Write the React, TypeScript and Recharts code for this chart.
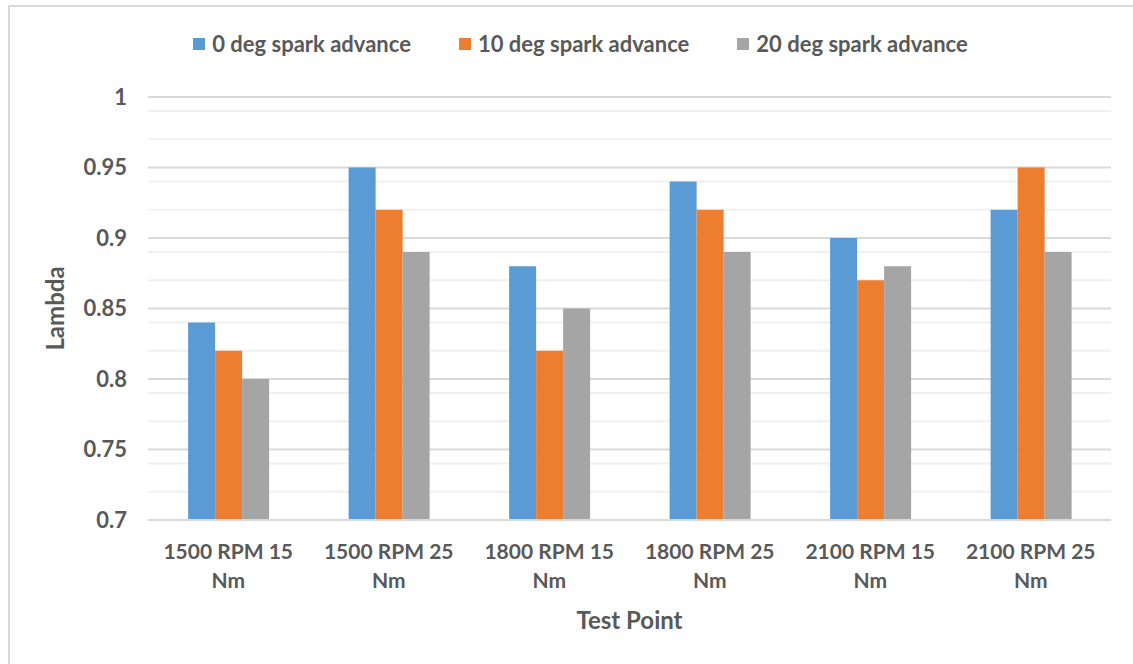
import React from "react";
import {
  Bar,
  BarChart,
  CartesianGrid,
  Legend,
  XAxis,
  YAxis,
} from "recharts";

const categories = [
  "1500 RPM 15 Nm",
  "1500 RPM 25 Nm",
  "1800 RPM 15 Nm",
  "1800 RPM 25 Nm",
  "2100 RPM 15 Nm",
  "2100 RPM 25 Nm",
];
const spark0 = [0.84, 0.95, 0.88, 0.94, 0.9, 0.92];
const spark10 = [0.82, 0.92, 0.82, 0.92, 0.87, 0.95];
const spark20 = [0.8, 0.89, 0.85, 0.89, 0.88, 0.89];

const seriesNames = [
  "0 deg spark advance",
  "10 deg spark advance",
  "20 deg spark advance",
];
const seriesColors = ["#5B9BD5", "#ED7D31", "#A5A5A5"];

const yTicks = [0.7, 0.75, 0.8, 0.85, 0.9, 0.95, 1];
const minorTicks = [
  0.71, 0.72, 0.73, 0.74, 0.76, 0.77, 0.78, 0.79, 0.81, 0.82, 0.83, 0.84,
  0.86, 0.87, 0.88, 0.89, 0.91, 0.92, 0.93, 0.94, 0.96, 0.97, 0.98, 0.99,
];

const data = categories.map((name, i) => ({
  name,
  s0: spark0[i],
  s10: spark10[i],
  s20: spark20[i],
}));

const FONT = "Lato, 'Open Sans', sans-serif";
const TEXT = "#595959";

// Excel-style wrapped category label: last word drops to a second line.
function CategoryTick({ x, y, payload }: any) {
  const label: string = payload.value;
  const cut = label.lastIndexOf(" ");
  return (
    <text
      x={x}
      y={y}
      textAnchor="middle"
      fill={TEXT}
      fontFamily={FONT}
      fontWeight={700}
      fontSize={21}
    >
      <tspan x={x} dy={31}>
        {label.slice(0, cut)}
      </tspan>
      <tspan x={x} dy={29}>
        {label.slice(cut + 1)}
      </tspan>
    </text>
  );
}

function LegendRow({ payload }: any) {
  return (
    <div
      style={{
        display: "flex",
        justifyContent: "center",
        gap: 48,
        fontFamily: FONT,
        fontWeight: 700,
        fontSize: 22,
        color: TEXT,
        paddingLeft: 28,
      }}
    >
      {(payload ?? []).map((p: any) => (
        <div key={p.value} style={{ display: "flex", alignItems: "center" }}>
          <span
            style={{
              width: 12,
              height: 12,
              background: p.color,
              marginRight: 7,
              display: "inline-block",
            }}
          />
          <span>{p.value}</span>
        </div>
      ))}
    </div>
  );
}

export default function App() {
  return (
    <div
      style={{
        position: "fixed",
        left: 0,
        top: 0,
        width: 1133,
        height: 664,
        background: "#fff",
        overflow: "hidden",
      }}
    >
      <div
        style={{
          position: "absolute",
          left: 8,
          top: 5,
          width: 1140,
          height: 680,
          border: "2px solid #D9D9D9",
        }}
      />
      <BarChart
        width={1133}
        height={664}
        data={data}
        margin={{ top: 97, right: 22, bottom: 0, left: 48 }}
        barCategoryGap="25%"
        barGap={0}
        style={{ position: "absolute", left: 0, top: 0 }}
      >
        <CartesianGrid
          vertical={false}
          horizontalValues={minorTicks}
          stroke="#F0F0F0"
          strokeWidth={2}
        />
        <CartesianGrid
          vertical={false}
          horizontalValues={yTicks}
          stroke="#D9D9D9"
          strokeWidth={2}
        />
        <XAxis
          dataKey="name"
          height={144}
          tickLine={false}
          axisLine={{ stroke: "#D9D9D9", strokeWidth: 2 }}
          tick={<CategoryTick />}
          interval={0}
          label={{
            value: "Test Point",
            position: "insideBottom",
            offset: 35,
            fill: TEXT,
            fontFamily: FONT,
            fontWeight: 700,
            fontSize: 24,
          }}
        />
        <YAxis
          width={100}
          domain={[0.7, 1]}
          ticks={yTicks}
          axisLine={false}
          tickLine={false}
          tickMargin={15}
          tick={{
            fill: TEXT,
            fontFamily: FONT,
            fontWeight: 700,
            fontSize: 22,
          }}
          label={{
            value: "Lambda",
            angle: -90,
            position: "insideLeft",
            offset: 7,
            fill: TEXT,
            fontFamily: FONT,
            fontWeight: 700,
            fontSize: 24,
            style: { textAnchor: "middle" },
          }}
        />
        <Legend
          verticalAlign="middle"
          align="center"
          content={<LegendRow />}
          wrapperStyle={{ top: 30, left: 0, width: 1133 }}
        />
        <Bar
          dataKey="s0"
          name={seriesNames[0]}
          fill={seriesColors[0]}
          isAnimationActive={false}
        />
        <Bar
          dataKey="s10"
          name={seriesNames[1]}
          fill={seriesColors[1]}
          isAnimationActive={false}
        />
        <Bar
          dataKey="s20"
          name={seriesNames[2]}
          fill={seriesColors[2]}
          isAnimationActive={false}
        />
      </BarChart>
    </div>
  );
}
